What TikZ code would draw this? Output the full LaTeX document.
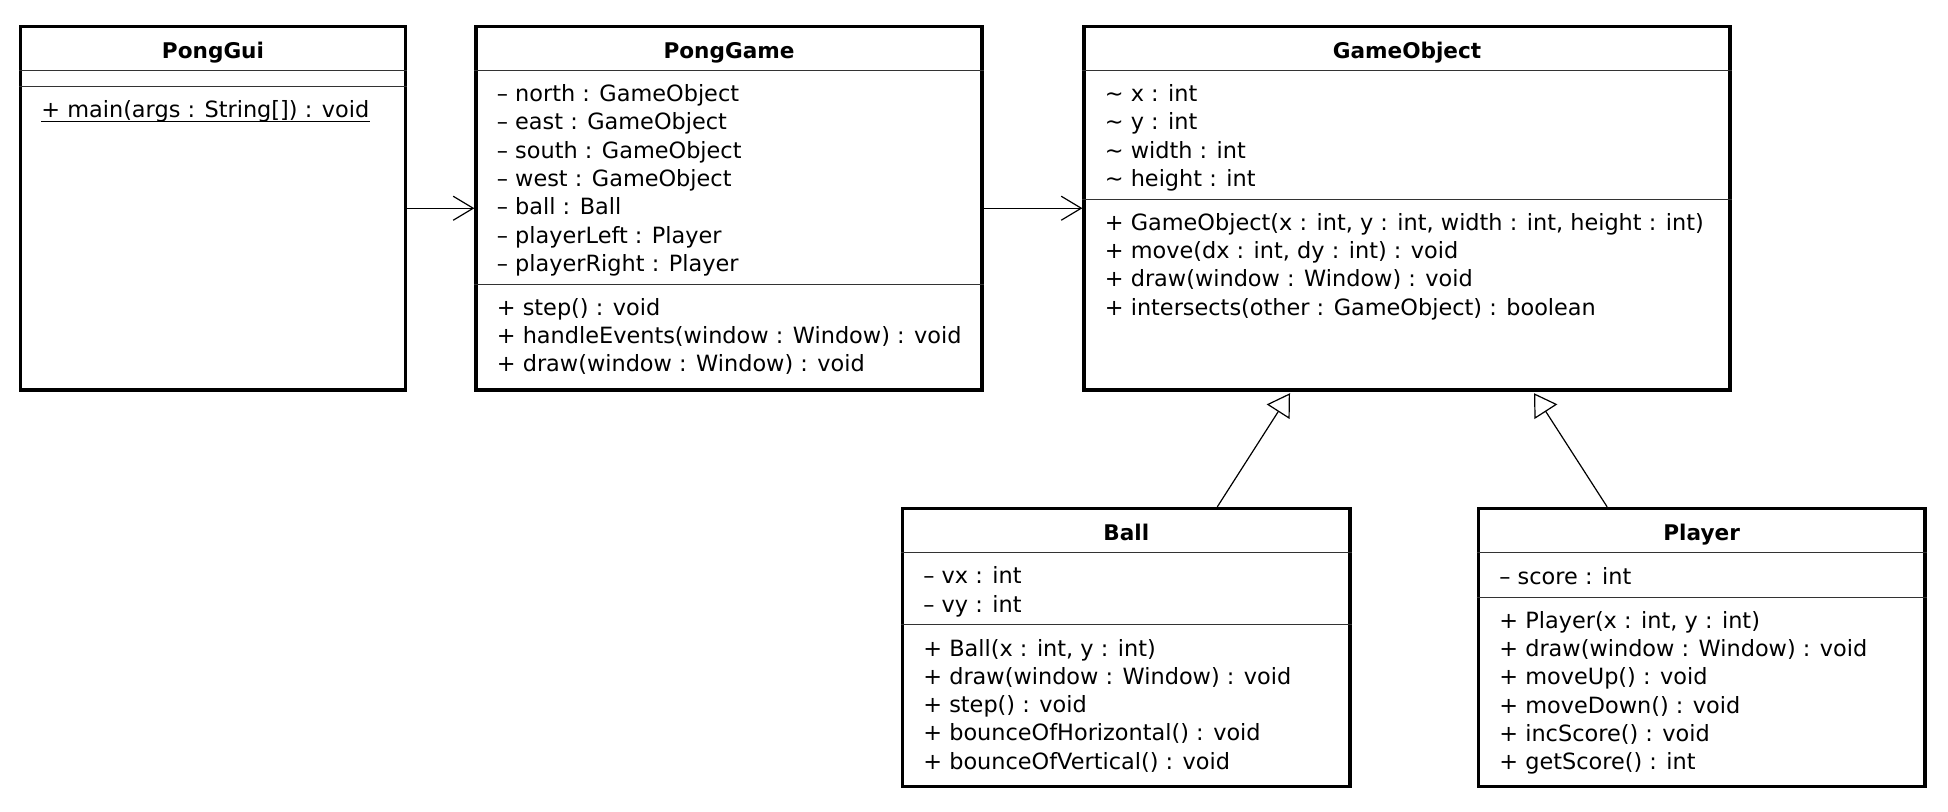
\documentclass[tikz,border=0pt]{standalone}
\usepackage{fontspec}
\setmainfont{DejaVu Sans}
\usetikzlibrary{arrows.meta,fit}
\begin{document}
\begin{tikzpicture}[x=0.5pt,y=-0.5pt,
  box/.style={draw=black,line width=1.6pt,inner sep=0pt,fill=white},
  sep/.style={line width=0.6pt,draw=black!80},
  title/.style={anchor=base,inner sep=0pt,font=\fontsize{10.8}{13}\selectfont\bfseries},
  member/.style={anchor=base west,inner sep=0pt,font=\fontsize{11.2}{14}\selectfont},
  assoc/.style={line width=0.6pt,-{Straight Barb[length=10pt,width=12pt,line width=0.6pt]}},
  inherit/.style={line width=0.6pt,-{Triangle[open,length=11pt,width=13.5pt,line width=0.6pt,fill=white]}},
]
\useasboundingbox (0,0) rectangle (1948,812);

% ---------------- PongGui ----------------
\node[box, fit={(20.5,26.5) (405.5,390)}] (gui) {};
\node[title] (gui-t) at (213,58.3) {PongGui};
\draw[sep] (gui.west |- 0,70.7) -- (gui.east |- 0,70.7);
\draw[sep] (gui.west |- 0,86.7) -- (gui.east |- 0,86.7);
\node[member] (gui-m1) at (41,118) {+ main(args : String[]) : void};
\draw[line width=0.6pt] ([yshift=-1.9pt]gui-m1.base west) -- ([yshift=-1.9pt]gui-m1.base east);

% ---------------- PongGame ----------------
\node[box, fit={(476,26.5) (982,390)}] (game) {};
\node[title] (game-t) at (729,58.3) {PongGame};
\draw[sep] (game.west |- 0,70.7) -- (game.east |- 0,70.7);
\draw[sep] (game.west |- 0,284.3) -- (game.east |- 0,284.3);
\node[member] (game-a1) at (496.5,101.7) {– north : GameObject};
\node[member] (game-a2) at (496.5,130.0) {– east : GameObject};
\node[member] (game-a3) at (496.5,158.3) {– south : GameObject};
\node[member] (game-a4) at (496.5,186.6) {– west : GameObject};
\node[member] (game-a5) at (496.5,214.9) {– ball : Ball};
\node[member] (game-a6) at (496.5,243.2) {– playerLeft : Player};
\node[member] (game-a7) at (496.5,271.5) {– playerRight : Player};
\node[member] (game-m1) at (496.5,315.3) {+ step() : void};
\node[member] (game-m2) at (496.5,343.6) {+ handleEvents(window : Window) : void};
\node[member] (game-m3) at (496.5,371.9) {+ draw(window : Window) : void};

% ---------------- GameObject ----------------
\node[box, fit={(1084,26.5) (1730,390)}] (go) {};
\node[title] (go-t) at (1407,58.3) {GameObject};
\draw[sep] (go.west |- 0,70.7) -- (go.east |- 0,70.7);
\draw[sep] (go.west |- 0,199.3) -- (go.east |- 0,199.3);
\node[member] (go-a1) at (1104.5,101.7) {\textasciitilde{} x : int};
\node[member] (go-a2) at (1104.5,130.0) {\textasciitilde{} y : int};
\node[member] (go-a3) at (1104.5,158.3) {\textasciitilde{} width : int};
\node[member] (go-a4) at (1104.5,186.6) {\textasciitilde{} height : int};
\node[member] (go-m1) at (1104.5,230.3) {+ GameObject(x : int, y : int, width : int, height : int)};
\node[member] (go-m2) at (1104.5,258.6) {+ move(dx : int, dy : int) : void};
\node[member] (go-m3) at (1104.5,286.9) {+ draw(window : Window) : void};
\node[member] (go-m4) at (1104.5,315.2) {+ intersects(other : GameObject) : boolean};

% ---------------- Ball ----------------
\node[box, fit={(902.5,508.5) (1350,786.7)}] (ball) {};
\node[title] (ball-t) at (1126.25,540) {Ball};
\draw[sep] (ball.west |- 0,552.7) -- (ball.east |- 0,552.7);
\draw[sep] (ball.west |- 0,624.3) -- (ball.east |- 0,624.3);
\node[member] (ball-a1) at (923,583.7) {– vx : int};
\node[member] (ball-a2) at (923,612.0) {– vy : int};
\node[member] (ball-m1) at (923,656.0) {+ Ball(x : int, y : int)};
\node[member] (ball-m2) at (923,684.3) {+ draw(window : Window) : void};
\node[member] (ball-m3) at (923,712.6) {+ step() : void};
\node[member] (ball-m4) at (923,740.9) {+ bounceOfHorizontal() : void};
\node[member] (ball-m5) at (923,769.2) {+ bounceOfVertical() : void};

% ---------------- Player ----------------
\node[box, fit={(1478.3,508.5) (1925,786.7)}] (player) {};
\node[title] (player-t) at (1701.65,540) {Player};
\draw[sep] (player.west |- 0,552.7) -- (player.east |- 0,552.7);
\draw[sep] (player.west |- 0,597.3) -- (player.east |- 0,597.3);
\node[member] (player-a1) at (1499,584.0) {– score : int};
\node[member] (player-m1) at (1499,628.3) {+ Player(x : int, y : int)};
\node[member] (player-m2) at (1499,656.6) {+ draw(window : Window) : void};
\node[member] (player-m3) at (1499,684.9) {+ moveUp() : void};
\node[member] (player-m4) at (1499,713.2) {+ moveDown() : void};
\node[member] (player-m5) at (1499,741.5) {+ incScore() : void};
\node[member] (player-m6) at (1499,769.8) {+ getScore() : int};

% ---------------- Connectors ----------------
\draw[assoc] (gui.east) -- (game.west);
\draw[assoc] (game.east) -- (go.west);
\draw[inherit] ([xshift=45.5pt]ball.north) -- ([xshift=-58.5pt,yshift=-0.8pt]go.south);
\draw[inherit] ([xshift=-47.25pt]player.north) -- ([xshift=63.5pt,yshift=-0.8pt]go.south);
\end{tikzpicture}
\end{document}
